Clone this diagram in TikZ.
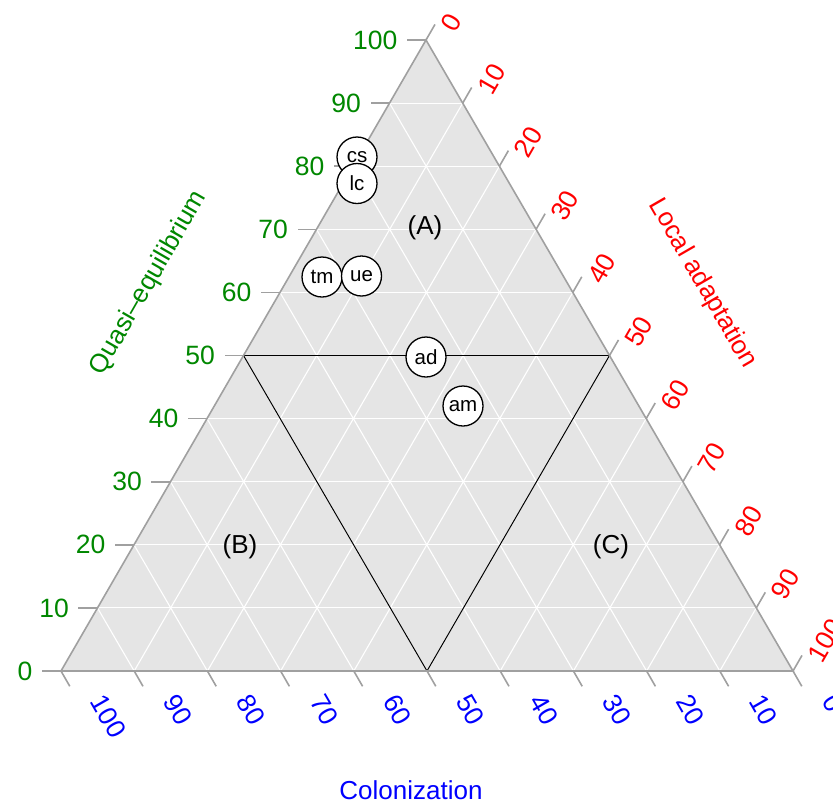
\documentclass[tikz,border=0pt]{standalone}
\usepackage{fontspec}
\setmainfont{Liberation Sans}
\usetikzlibrary{calc}
\definecolor{qgreen}{RGB}{0,135,0}
\definecolor{lred}{RGB}{255,0,0}
\definecolor{cblue}{RGB}{0,0,255}
\definecolor{tfill}{RGB}{229,229,229}
\definecolor{tgray}{RGB}{160,160,160}
\tikzset{
  gridline/.style={draw=white, line width=1.1pt},
  border/.style={draw=tgray, line width=1.6pt, line join=miter},
  tickline/.style={draw=tgray, line width=1.6pt},
  ticklab/.style={inner sep=0pt, font=\fontsize{26.5}{30}\selectfont},
  regionlab/.style={inner sep=0pt, font=\fontsize{26}{30}\selectfont},
  axtitle/.style={inner sep=0pt, font=\fontsize{26}{30}\selectfont},
  divline/.style={draw=black, line width=1pt},
  pt/.style={circle, draw=black, fill=white, line width=1.3pt, minimum size=40pt, inner sep=0pt, font=\fontsize{20.5}{24}\selectfont}
}
\begin{document}
\begin{tikzpicture}[x=1pt, y=-1pt]
\useasboundingbox (0,0) rectangle (833,804);
\coordinate (T) at (426,40);
\coordinate (L) at (61,671);
\coordinate (R) at (793,671);
% fill
\fill[tfill] (L) -- (R) -- (T) -- cycle;
% grid
\foreach \k in {1,...,9} {
  \draw[gridline] ($(L)!\k/10!(T)$) -- ($(R)!\k/10!(T)$);
  \draw[gridline] ($(L)!\k/10!(R)$) -- ($(T)!\k/10!(R)$);
  \draw[gridline] ($(L)!\k/10!(R)$) -- ($(L)!\k/10!(T)$);
}
% dividing lines
\coordinate (ML) at ($(L)!0.5!(T)$);
\coordinate (MR) at ($(R)!0.5!(T)$);
\coordinate (MB) at ($(L)!0.5!(R)$);
\draw[divline] (ML) -- (MR);
\draw[divline] (ML) -- (MB) -- (MR);
% border
\draw[border] (L) -- (R) -- (T) -- cycle;
% ticks and labels
\foreach \k in {0,...,10} {
  % left axis (Quasi-equilibrium)
  \coordinate (lt\k) at ($(L)!\k/10!(T)$);
  \draw[tickline] (lt\k) -- ++(-19,0) coordinate (lte\k);
  \pgfmathtruncatemacro{\lv}{10*\k}
  \node[ticklab, text=qgreen, anchor=east] (ll\k) at ($(lte\k)+(-9.5,0)$) {\lv};
  % right axis (Local adaptation)
  \coordinate (rt\k) at ($(T)!\k/10!(R)$);
  \draw[tickline] (rt\k) -- ++(9,-15.6) coordinate (rte\k);
  \node[ticklab, text=lred, anchor=west, rotate=60] (rl\k) at ($(rte\k)+(12.5,4.7)$) {\lv};
  % bottom axis (Colonization)
  \coordinate (bt\k) at ($(L)!\k/10!(R)$);
  \draw[tickline] (bt\k) -- ++(8.8,15.3) coordinate (bte\k);
  \pgfmathtruncatemacro{\bv}{100-10*\k}
  \node[ticklab, text=cblue, anchor=west, rotate=-60] (bl\k) at ($(bte\k)+(27.5,10.7)$) {\bv};
}
% axis titles
\node[axtitle, text=qgreen, rotate=60] (qt) at (149,283) {Quasi–equilibrium};
\node[axtitle, text=lred, rotate=-60] (lat) at (702.5,283.5) {Local adaptation};
\node[axtitle, text=cblue] (ct) at (411,790) {Colonization};
% region labels
\node[regionlab] (A) at (425,228) {(A)};
\node[regionlab] (B) at (240,547) {(B)};
\node[regionlab] (C) at (611,547) {(C)};
% points
\node[pt] (cs) at (357,157) {cs};
\node[pt] (lc) at (357,183.5) {lc};
\node[pt] (tm) at (322,277) {tm};
\node[pt] (ue) at (361.5,276) {ue};
\node[pt] (ad) at (426,357) {ad};
\node[pt] (am) at (463,406) {am};
\end{tikzpicture}
\end{document}
